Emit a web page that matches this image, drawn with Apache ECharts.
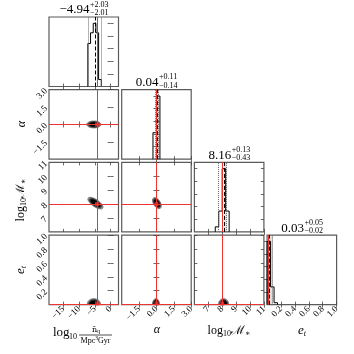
<!DOCTYPE html>
<html><head><meta charset="utf-8">
<script src="https://cdn.jsdelivr.net/npm/echarts@6/dist/echarts.min.js"></script>
<style>html,body{margin:0;padding:0;background:#fff}#c{width:354px;height:354px}</style>
</head><body><div id="c"></div>
<script>
// ---- data ----
const axisMin = [-19.5, -3, 6, 0];
const axisMax = [2.5, 3, 11, 1];
const tickValues = [[-15,-10,-5,0],[-1.5,0,1.5,3],[7,8,9,10,11],[0.2,0.4,0.6,0.8,1.0]];
const tickDecimals = [0,1,0,1];
const truths = [-4.3, 0.0, 8.0, 0.015];
const medians = [-4.94, 0.04, 8.16, 0.03];
const errPlus = [2.03, 0.11, 0.13, 0.05];
const errMinus = [2.01, 0.14, 0.43, 0.02];
const titleMain = ['−4.94','0.04','8.16','0.03'];
const titleSup = ['+2.03','+0.11','+0.13','+0.05'];
const titleSub = ['−2.01','−0.14','−0.43','−0.02'];

const histEdges0 = [-7.2,-6.35,-5.5,-4.65,-3.8,-2.95];
const histHeights0 = [0.68,0.85,1.0,0.85,0.11];
const histEdges1 = [-0.3,0.0,0.3];
const histHeights1 = [0.42,1.0];
const histEdges2 = [7.5,7.75,8.0,8.25,8.5];
const histHeights2 = [0.08,0.33,1.0,0.33];
const histEdges3 = [0,0.05,0.1,0.15];
const histHeights3 = [1.0,0.28,0.03];
const histYTicks = [0.2,0.4,0.6,0.8,1.0];

const blobRows = [1,2,2,3,3,3];
const blobCols = [0,0,1,0,1,2];
const blobCx = [-5.3,-4.8,0.04,-5.3,-0.04,8.1];
const blobCy = [0.0,8.07,8.07,0.01,0.01,0.01];
const blobSx = [1.12,1.2,0.19,1.04,0.15,0.18];
const blobSy = [0.15,0.21,0.2,0.038,0.038,0.038];
const blobRho = [0,-0.7,-0.5,0,0,0];

// ---- layout ----
const N = 4, X0 = 49, Y0 = 17, STEP = 72.7, SIZE = 69.5;
const serif = '"Liberation Serif","DejaVu Serif",serif';
const RED = '#ee3333';
const hists = [[histEdges0,histHeights0],[histEdges1,histHeights1],[histEdges2,histHeights2],[histEdges3,histHeights3]];

function fmt(v,p){ let s = v.toFixed(tickDecimals[p]); if (parseFloat(s)===0) s = s.replace('-',''); return s.replace('-','−'); }

const grids=[], xAxes=[], yAxes=[], series=[];
function axis(kind, p, gi, pos, showLabels, histY){
  const ticks = histY ? histYTicks : tickValues[p];
  return {
    type:'value', gridIndex: gi, position: pos,
    min: histY ? 0 : axisMin[p], max: histY ? 1.1 : axisMax[p],
    axisLine:{show:false}, splitLine:{show:false},
    axisTick:{show:true, inside:true, length:3, lineStyle:{color:'#444', width:0.8}, customValues: ticks},
    axisLabel:{show: showLabels, rotate:45, fontSize:9, fontFamily:serif, color:'#000', margin:3,
      customValues: ticks, formatter: v => fmt(v,p)}
  };
}
let g = 0;
for (let r=0;r<N;r++){
  for (let c=0;c<=r;c++){
    grids.push({left: X0+STEP*c, top: Y0+STEP*r, width: SIZE, height: SIZE, show:true, borderColor:'#5a5a5a', borderWidth:1.2, backgroundColor:'transparent'});
    const diag = r===c;
    xAxes.push(axis('x', c, g, 'bottom', r===N-1, false));
    xAxes.push(axis('x', c, g, 'top', false, false));
    yAxes.push(axis('y', r, g, 'left', c===0 && !diag, diag));
    yAxes.push(axis('y', r, g, 'right', false, diag));
    const xi = 2*g, yi = 2*g;
    if (diag){
      const [edges, hs] = hists[c];
      const pts = [[edges[0],0]];
      hs.forEach((h,i)=>{ pts.push([edges[i],h]); pts.push([edges[i+1],h]); });
      pts.push([edges[edges.length-1],0]);
      const q16 = medians[c]-errMinus[c], q84 = medians[c]+errPlus[c];
      const s = {type:'line', xAxisIndex:xi, yAxisIndex:yi, data:pts, symbol:'none', silent:true,
        lineStyle:{color:'#000', width:1}, z:3,
        markLine:{symbol:'none', silent:true, label:{show:false}, animation:false,
          data:[
            {xAxis:q16, lineStyle:{type:'dotted', color:'#666', width:1}},
            {xAxis:q84, lineStyle:{type:'dotted', color:'#666', width:1}},
            {xAxis:medians[c], lineStyle:{type:'dashed', color:'#000', width:1}},
            {xAxis:truths[c], lineStyle:{type:'solid', color:RED, width:1}}
          ]}
      };
      if (c>0) s.markArea = {silent:true, itemStyle:{color:'rgba(150,150,150,0.3)'}, data:[[{xAxis:medians[c]},{xAxis:q84}]]};
      series.push(s);
    } else {
      const bi = blobRows.findIndex((rr,k)=>rr===r && blobCols[k]===c);
      if (bi>=0){
        series.push({type:'custom', xAxisIndex:xi, yAxisIndex:yi, silent:true, clip:true, z:2,
          data:[[blobCx[bi], blobCy[bi], blobSx[bi], blobSy[bi], blobRho[bi], axisMin[r]]],
          encode:{x:0, y:1},
          renderItem:(params, api)=>{
            const cx=api.value(0), cy=api.value(1), sx=api.value(2), sy=api.value(3), rho=api.value(4), ymin=api.value(5);
            const levels=[[2.0,'#a8a8a8'],[1.65,'#555'],[1.35,'#000']];
            const children = levels.map(([k,col])=>{
              const ptsE=[];
              for (let t=0;t<64;t++){
                const a = t/64*2*Math.PI;
                const x = cx + k*sx*Math.cos(a);
                let y = cy + k*sy*(rho*Math.cos(a) + Math.sqrt(1-rho*rho)*Math.sin(a));
                if (y<ymin) y=ymin;
                ptsE.push(api.coord([x,y]));
              }
              return {type:'polygon', shape:{points:ptsE}, style:{fill:col, stroke:'#222', lineWidth:0.5}};
            });
            return {type:'group', children};
          }
        });
      }
      series.push({type:'scatter', xAxisIndex:xi, yAxisIndex:yi, silent:true, z:5,
        data:[[truths[c], truths[r]]], symbol:'rect', symbolSize:4, itemStyle:{color:RED},
        markLine:{symbol:'none', silent:true, label:{show:false}, animation:false,
          lineStyle:{color:RED, width:1, type:'solid'},
          data:[{xAxis:truths[c]},{yAxis:truths[r]}]}
      });
    }
    g++;
  }
}

// ---- text graphics ----
const mctx = document.createElement('canvas').getContext('2d');
function tw(s, size){ mctx.font = size+'px "Liberation Serif"'; return mctx.measureText(s).width; }
const graphic = [];
for (let i=0;i<N;i++){
  const cx = X0+STEP*i+SIZE/2, top = Y0+STEP*i;
  const wm = tw(titleMain[i],13), ws = Math.max(tw(titleSup[i],8), tw(titleSub[i],8));
  const split = cx - (wm+ws)/2 + wm;
  graphic.push({type:'text', x:split, y:top-7, style:{text:titleMain[i], font:'13px '+serif, fill:'#000', textAlign:'right', textVerticalAlign:'middle'}});
  graphic.push({type:'text', x:split+0.5, y:top-12.5, style:{text:titleSup[i], font:'8px '+serif, fill:'#000', textAlign:'left', textVerticalAlign:'middle'}});
  graphic.push({type:'text', x:split+0.5, y:top-4, style:{text:titleSub[i], font:'8px '+serif, fill:'#000', textAlign:'left', textVerticalAlign:'middle'}});
}
const richM = {a:{fontFamily:serif, fontSize:12, fill:'#000'}, b:{fontFamily:serif, fontSize:8, padding:[6,0,0,0], fill:'#000'}, m:{fontFamily:'"DejaVu Serif",serif', fontSize:12, fill:'#000'}, s:{fontFamily:serif, fontSize:8, padding:[6,0,0,0], fill:'#000'}};
const richE = {e:{fontFamily:serif, fontSize:13, fontStyle:'italic', fill:'#000'}, t:{fontFamily:serif, fontSize:8, fontStyle:'italic', padding:[6,0,0,0], fill:'#000'}};
const mLabel = '{a|log}{b|10}{m|ℳ}{s|∗}';
const eLabel = '{e|e}{t|t}';
// y labels
graphic.push({type:'text', x:22, y:124, rotation:Math.PI/2, style:{text:'α', font:'italic 12px '+serif, fill:'#000', textAlign:'center', textVerticalAlign:'middle'}});
graphic.push({type:'text', x:21, y:200, rotation:Math.PI/2, style:{text:mLabel, rich:richM, textAlign:'center', textVerticalAlign:'middle'}});
graphic.push({type:'text', x:21, y:270, rotation:Math.PI/2, style:{text:eLabel, rich:richE, textAlign:'center', textVerticalAlign:'middle'}});
// x labels
graphic.push({type:'text', x:157, y:330, style:{text:'α', font:'italic 12px '+serif, fill:'#000', textAlign:'center', textVerticalAlign:'middle'}});
graphic.push({type:'text', x:229, y:331, style:{text:mLabel, rich:richM, textAlign:'center', textVerticalAlign:'middle'}});
graphic.push({type:'text', x:302, y:331, style:{text:eLabel, rich:richE, textAlign:'center', textVerticalAlign:'middle'}});
// fraction label for first column
graphic.push({type:'text', x:53, y:333, style:{text:'log', font:'13px '+serif, fill:'#000', textAlign:'left', textVerticalAlign:'middle'}});
graphic.push({type:'text', x:69, y:337, style:{text:'10', font:'8px '+serif, fill:'#000', textAlign:'left', textVerticalAlign:'middle'}});
graphic.push({type:'text', x:96, y:329.5, style:{text:'{n|n̄}{q|q}', rich:{n:{fontFamily:'"DejaVu Serif",serif', fontSize:8, fill:'#000'}, q:{fontFamily:serif, fontSize:6, padding:[3,0,0,0], fill:'#000'}}, textAlign:'center', textVerticalAlign:'middle'}});
graphic.push({type:'line', shape:{x1:79, y1:335, x2:112, y2:335}, style:{stroke:'#000', lineWidth:0.7}});
graphic.push({type:'text', x:95.5, y:340.5, style:{text:'{a|Mpc}{s|3}{a|Gyr}', rich:{a:{fontFamily:serif, fontSize:8, fill:'#000'}, s:{fontFamily:serif, fontSize:5.5, padding:[0,0,4,0], fill:'#000'}}, textAlign:'center', textVerticalAlign:'middle'}});

const chart = echarts.init(document.getElementById('c'), null, {renderer:'canvas'});
chart.setOption({animation:false, grid:grids, xAxis:xAxes, yAxis:yAxes, series, graphic});
</script></body></html>
